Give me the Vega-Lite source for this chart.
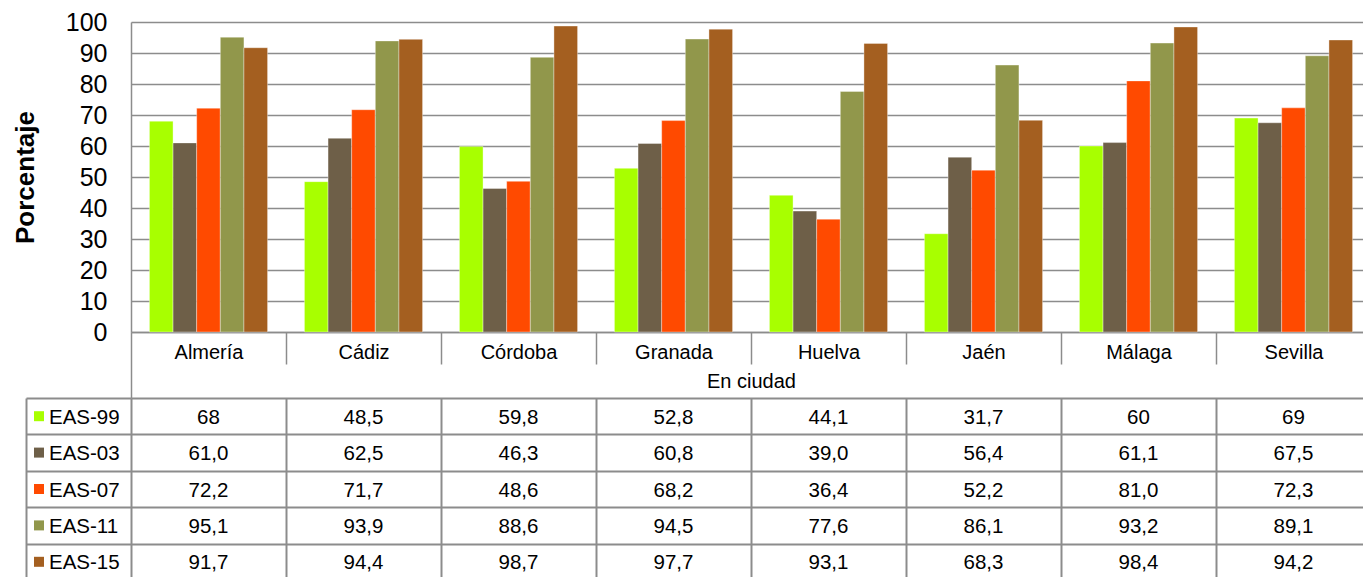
{
  "$schema": "https://vega.github.io/schema/vega-lite/v6.json",
  "padding": {"left": 12, "top": 10, "right": 0, "bottom": 0},
  "background": "white",
  "config": {
    "font": "Liberation Sans",
    "view": {"stroke": null},
    "axis": {"labelFont": "Liberation Sans", "titleFont": "Liberation Sans"}
  },
  "datasets": {
    "d": [
      {"city": "Almería", "serie": "EAS-99", "v": 68, "txt": "68"},
      {"city": "Almería", "serie": "EAS-03", "v": 61.0, "txt": "61,0"},
      {"city": "Almería", "serie": "EAS-07", "v": 72.2, "txt": "72,2"},
      {"city": "Almería", "serie": "EAS-11", "v": 95.1, "txt": "95,1"},
      {"city": "Almería", "serie": "EAS-15", "v": 91.7, "txt": "91,7"},
      {"city": "Cádiz", "serie": "EAS-99", "v": 48.5, "txt": "48,5"},
      {"city": "Cádiz", "serie": "EAS-03", "v": 62.5, "txt": "62,5"},
      {"city": "Cádiz", "serie": "EAS-07", "v": 71.7, "txt": "71,7"},
      {"city": "Cádiz", "serie": "EAS-11", "v": 93.9, "txt": "93,9"},
      {"city": "Cádiz", "serie": "EAS-15", "v": 94.4, "txt": "94,4"},
      {"city": "Córdoba", "serie": "EAS-99", "v": 59.8, "txt": "59,8"},
      {"city": "Córdoba", "serie": "EAS-03", "v": 46.3, "txt": "46,3"},
      {"city": "Córdoba", "serie": "EAS-07", "v": 48.6, "txt": "48,6"},
      {"city": "Córdoba", "serie": "EAS-11", "v": 88.6, "txt": "88,6"},
      {"city": "Córdoba", "serie": "EAS-15", "v": 98.7, "txt": "98,7"},
      {"city": "Granada", "serie": "EAS-99", "v": 52.8, "txt": "52,8"},
      {"city": "Granada", "serie": "EAS-03", "v": 60.8, "txt": "60,8"},
      {"city": "Granada", "serie": "EAS-07", "v": 68.2, "txt": "68,2"},
      {"city": "Granada", "serie": "EAS-11", "v": 94.5, "txt": "94,5"},
      {"city": "Granada", "serie": "EAS-15", "v": 97.7, "txt": "97,7"},
      {"city": "Huelva", "serie": "EAS-99", "v": 44.1, "txt": "44,1"},
      {"city": "Huelva", "serie": "EAS-03", "v": 39.0, "txt": "39,0"},
      {"city": "Huelva", "serie": "EAS-07", "v": 36.4, "txt": "36,4"},
      {"city": "Huelva", "serie": "EAS-11", "v": 77.6, "txt": "77,6"},
      {"city": "Huelva", "serie": "EAS-15", "v": 93.1, "txt": "93,1"},
      {"city": "Jaén", "serie": "EAS-99", "v": 31.7, "txt": "31,7"},
      {"city": "Jaén", "serie": "EAS-03", "v": 56.4, "txt": "56,4"},
      {"city": "Jaén", "serie": "EAS-07", "v": 52.2, "txt": "52,2"},
      {"city": "Jaén", "serie": "EAS-11", "v": 86.1, "txt": "86,1"},
      {"city": "Jaén", "serie": "EAS-15", "v": 68.3, "txt": "68,3"},
      {"city": "Málaga", "serie": "EAS-99", "v": 60, "txt": "60"},
      {"city": "Málaga", "serie": "EAS-03", "v": 61.1, "txt": "61,1"},
      {"city": "Málaga", "serie": "EAS-07", "v": 81.0, "txt": "81,0"},
      {"city": "Málaga", "serie": "EAS-11", "v": 93.2, "txt": "93,2"},
      {"city": "Málaga", "serie": "EAS-15", "v": 98.4, "txt": "98,4"},
      {"city": "Sevilla", "serie": "EAS-99", "v": 69, "txt": "69"},
      {"city": "Sevilla", "serie": "EAS-03", "v": 67.5, "txt": "67,5"},
      {"city": "Sevilla", "serie": "EAS-07", "v": 72.3, "txt": "72,3"},
      {"city": "Sevilla", "serie": "EAS-11", "v": 89.1, "txt": "89,1"},
      {"city": "Sevilla", "serie": "EAS-15", "v": 94.2, "txt": "94,2"}
    ]
  },
  "columns": 2,
  "bounds": "flush",
  "spacing": {"row": 66, "column": 0},
  "concat": [
    {
      "width": 105,
      "height": 310,
      "data": {"values": []},
      "mark": "point"
    },
    {
      "width": 1240,
      "height": 310,
      "data": {"name": "d"},
      "mark": {"type": "bar", "stroke": "#ffffff", "strokeWidth": 0.6, "strokeOpacity": 0.6},
      "encoding": {
        "x": {
          "field": "city",
          "type": "nominal",
          "sort": ["Almería", "Cádiz", "Córdoba", "Granada", "Huelva", "Jaén", "Málaga", "Sevilla"],
          "scale": {"paddingInner": 0, "paddingOuter": 0},
          "axis": {
            "title": "En ciudad",
            "titleFontSize": 20,
            "titleFontWeight": "normal",
            "titleColor": "#000000",
            "titlePadding": -27,
            "labelAngle": 0,
            "labelFontSize": 20,
            "labelColor": "#000000",
            "labelPadding": -22,
            "tickBand": "extent",
            "tickSize": {"condition": {"test": "!!datum.extra", "value": 66}, "value": 32},
            "tickColor": "#8c8c8c",
            "tickWidth": 1.5,
            "domainColor": "#8c8c8c",
            "domainWidth": 1.5,
            "grid": false
          }
        },
        "xOffset": {
          "field": "serie",
          "type": "nominal",
          "sort": ["EAS-99", "EAS-03", "EAS-07", "EAS-11", "EAS-15"],
          "scale": {"paddingInner": 0, "paddingOuter": 0.78}
        },
        "y": {
          "field": "v",
          "type": "quantitative",
          "scale": {"domain": [0, 100], "nice": false},
          "axis": {
            "values": [0, 10, 20, 30, 40, 50, 60, 70, 80, 90, 100],
            "grid": true,
            "gridColor": "#8c8c8c",
            "gridWidth": 1.5,
            "ticks": false,
            "domain": true,
            "domainColor": "#8c8c8c",
            "domainWidth": 1.5,
            "labelFontSize": 25,
            "labelColor": "#000000",
            "labelPadding": 24,
            "title": "Porcentaje",
            "titleFontSize": 26,
            "titleFontWeight": "bold",
            "titleColor": "#000000",
            "titlePadding": 27
          }
        },
        "color": {
          "field": "serie",
          "type": "nominal",
          "scale": {
            "domain": ["EAS-99", "EAS-03", "EAS-07", "EAS-11", "EAS-15"],
            "range": ["#a8ff00", "#6e5f48", "#ff4a00", "#91974b", "#a45f20"]
          },
          "legend": null
        }
      }
    },
    {
      "width": 105,
      "height": 182,
      "data": {"name": "d"},
      "transform": [{"filter": "datum.city === 'Almería'"}],
      "encoding": {
        "y": {
          "field": "serie",
          "type": "nominal",
          "sort": ["EAS-99", "EAS-03", "EAS-07", "EAS-11", "EAS-15"],
          "scale": {"paddingInner": 0, "paddingOuter": 0},
          "axis": {
            "title": null,
            "labels": false,
            "ticks": false,
            "domain": true,
            "domainColor": "#8c8c8c",
            "domainWidth": 2,
            "grid": true,
            "gridColor": "#8c8c8c",
            "gridWidth": 2,
            "tickBand": "extent"
          }
        }
      },
      "layer": [
        {
          "mark": {"type": "point", "shape": "square", "filled": true, "size": 100, "opacity": 1, "xOffset": -39.5},
          "encoding": {
            "color": {"field": "serie", "type": "nominal", "legend": null}
          }
        },
        {
          "mark": {"type": "text", "align": "left", "dx": -29.5, "dy": 1.5, "fontSize": 20.5, "color": "#000000"},
          "encoding": {"text": {"field": "serie"}}
        }
      ]
    },
    {
      "width": 1240,
      "height": 182,
      "data": {"name": "d"},
      "mark": {"type": "text", "fontSize": 20.5, "dy": 1.5, "color": "#000000"},
      "encoding": {
        "x": {
          "field": "city",
          "type": "nominal",
          "sort": ["Almería", "Cádiz", "Córdoba", "Granada", "Huelva", "Jaén", "Málaga", "Sevilla"],
          "scale": {"paddingInner": 0, "paddingOuter": 0},
          "axis": {
            "title": null,
            "labels": false,
            "ticks": false,
            "domain": false,
            "grid": true,
            "gridColor": "#8c8c8c",
            "gridWidth": 2,
            "tickBand": "extent"
          }
        },
        "y": {
          "field": "serie",
          "type": "nominal",
          "sort": ["EAS-99", "EAS-03", "EAS-07", "EAS-11", "EAS-15"],
          "scale": {"paddingInner": 0, "paddingOuter": 0},
          "axis": {
            "title": null,
            "labels": false,
            "ticks": false,
            "domain": false,
            "grid": true,
            "gridColor": "#8c8c8c",
            "gridWidth": 2,
            "tickBand": "extent"
          }
        },
        "text": {"field": "txt"}
      }
    }
  ]
}
